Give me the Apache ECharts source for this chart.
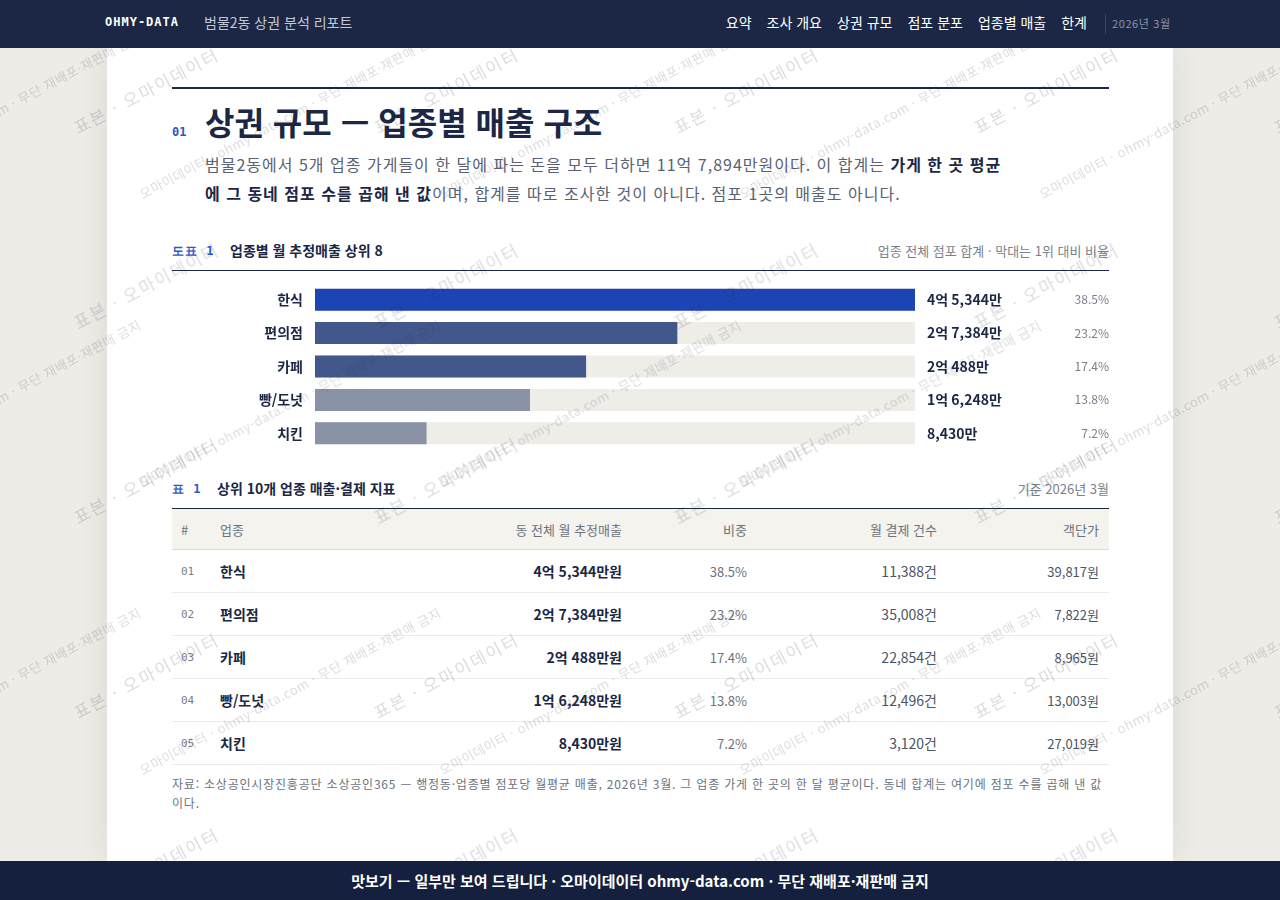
<!DOCTYPE html>
<html lang="ko">
<head>
<meta charset="utf-8">
<title>범물2동 상권 분석 리포트</title>
<script src="https://cdn.jsdelivr.net/npm/echarts@6/dist/echarts.min.js"></script>
<style>
  html, body { margin: 0; padding: 0; }
  body {
    width: 1280px; height: 900px; overflow: hidden; position: relative;
    background: #edece7;
    font-family: "Noto Sans CJK KR", "Noto Sans", sans-serif;
    color: #1b2744;
  }
  .top {
    position: absolute; left: 0; top: 0; width: 1280px; height: 48px;
    background: #1b2744; z-index: 5;
  }
  .top .brand { position: absolute; left: 105px; top: 15px; font: 700 12px "DejaVu Sans Mono", monospace; color: #fff; letter-spacing: 1px; }
  .top .sub { position: absolute; left: 204px; top: 12px; font-size: 14px; color: #c3c9d6; }
  .top .nav { position: absolute; right: 193px; top: 12px; font-size: 14px; color: #fff; }
  .top .nav span { margin-left: 15px; }
  .top .sep { position: absolute; left: 1105px; top: 14px; width: 1px; height: 20px; background: #3a4663; }
  .top .date { position: absolute; left: 1112px; top: 15px; font-size: 11px; color: #8c95aa; letter-spacing: 0.6px; }
  .paper {
    position: absolute; left: 107px; top: 48px; width: 1066px; height: 813px;
    background: #fff; box-shadow: 0 0 28px rgba(60,50,30,0.10);
  }
  .col { position: absolute; left: 65px; width: 937px; }
  .rule-top { top: 39px; height: 2px; background: #1b2744; }
  .num { font: 700 12px "DejaVu Sans Mono", monospace; color: #2f55c8; }
  .title-row { top: 56px; height: 40px; }
  .title-row .num { position: absolute; left: 0; top: 21px; }
  .title-row h1 { position: absolute; left: 33px; top: -6px; margin: 0; font-size: 32px; font-weight: 700; color: #1b2744; white-space: nowrap; }
  .lead { top: 102px; left: 98px; width: 800px; margin: 0; font-size: 16px; line-height: 29px; color: #5a6172; letter-spacing: 1px; }
  .lead b { color: #1b2744; }
  .cap { height: 31px; border-bottom: 1px solid #1b2744; }
  .cap .num { position: absolute; left: 0; top: 4px; letter-spacing: 1px; }
  .cap .t { position: absolute; top: 1px; font-size: 14px; font-weight: 700; color: #1b2744; }
  .cap .r { position: absolute; right: 0; top: 2px; font-size: 13px; color: #7a7f8c; }
  #chart { position: absolute; left: 65px; top: 235px; width: 937px; height: 167px; }
  table { border-collapse: collapse; width: 937px; table-layout: fixed; font-size: 13px; }
  th { height: 40px; background: #f4f3ee; font-weight: 400; font-size: 13px; color: #6b7280; border-bottom: 1px solid #dcdad3; padding: 0 10px 0 9px; }
  td { height: 42px; border-bottom: 1px solid #ecebe6; padding: 0 10px 0 9px; color: #4b5563; }
  th.l, td.l { text-align: left; }
  th.r, td.r { text-align: right; }
  td.idx { font: 11px "DejaVu Sans Mono", monospace; color: #7a7f8c; }
  td.nm, td.sl { font-weight: 700; font-size: 14px; color: #1b2744; }
  td.sh { color: #6b7280; }
  td.py { font-size: 14px; }
  .note { top: 726px; margin: 0; font-size: 12px; line-height: 19px; color: #6b7280; letter-spacing: 0.8px; }
  .wm { position: absolute; left: 0; top: 0; width: 1280px; height: 900px; overflow: hidden; pointer-events: none; z-index: 3; }
  .wm span { position: absolute; white-space: nowrap; transform: translate(-50%, -50%) rotate(-28deg); color: rgba(40,40,55,0.16); }
  .foot {
    position: absolute; left: 0; top: 861px; width: 1280px; height: 39px;
    background: #14203d; color: #fff; font-size: 15px; font-weight: 700;
    text-align: center; line-height: 39px; z-index: 5;
  }
</style>
</head>
<body>
<div class="top">
  <div class="brand">OHMY-DATA</div>
  <div class="sub">범물2동 상권 분석 리포트</div>
  <div class="nav" id="nav"></div>
  <div class="sep"></div>
  <div class="date">2026년 3월</div>
</div>

<div class="paper">
  <div class="col rule-top"></div>
  <div class="col title-row">
    <span class="num">01</span>
    <h1>상권 규모 — 업종별 매출 구조</h1>
  </div>
  <p class="col lead" id="lead"></p>

  <div class="col cap" style="top:191px">
    <span class="num">도표 1</span>
    <span class="t" style="left:58px">업종별 월 추정매출 상위 8</span>
    <span class="r">업종 전체 점포 합계 · 막대는 1위 대비 비율</span>
  </div>
  <div id="chart"></div>

  <div class="col cap" style="top:429px">
    <span class="num">표 1</span>
    <span class="t" style="left:45px">상위 10개 업종 매출·결제 지표</span>
    <span class="r">기준 2026년 3월</span>
  </div>
  <div class="col" style="top:461px">
    <table>
      <colgroup>
        <col style="width:39px"><col style="width:209px"><col style="width:212px">
        <col style="width:125px"><col style="width:190px"><col style="width:162px">
      </colgroup>
      <thead>
        <tr>
          <th class="l">#</th>
          <th class="l">업종</th>
          <th class="r">동 전체 월 추정매출</th>
          <th class="r">비중</th>
          <th class="r">월 결제 건수</th>
          <th class="r">객단가</th>
        </tr>
      </thead>
      <tbody id="rows"></tbody>
    </table>
  </div>
  <p class="col note">자료: 소상공인시장진흥공단 소상공인365 — 행정동·업종별 점포당 월평균 매출, 2026년 3월. 그 업종 가게 한 곳의 한 달 평균이다. 동네 합계는 여기에 점포 수를 곱해 낸 값이다.</p>
</div>

<div class="wm" id="wm"></div>
<div class="foot">맛보기 — 일부만 보여 드립니다 · 오마이데이터 ohmy-data.com · 무단 재배포·재판매 금지</div>

<script>
// 업종별 동 전체 월 추정매출 (단위: 만원)
const categories = ['한식', '편의점', '카페', '빵/도넛', '치킨'];
const salesMan = [45344, 27384, 20488, 16248, 8430];
const sharePct = [38.5, 23.2, 17.4, 13.8, 7.2];
const payments = [11388, 35008, 22854, 12496, 3120];
const avgTicket = [39817, 7822, 8965, 13003, 27019];
const navItems = ['요약', '조사 개요', '상권 규모', '점포 분포', '업종별 매출', '한계'];

const FONT = '"Noto Sans CJK KR", "Noto Sans", sans-serif';

function fmtMan(v) {
  const eok = Math.floor(v / 10000);
  const man = v % 10000;
  if (eok > 0) return eok + '억 ' + man.toLocaleString('en-US') + '만';
  return man.toLocaleString('en-US') + '만';
}

document.getElementById('nav').innerHTML = navItems.map(n => '<span>' + n + '</span>').join('');

const total = salesMan.reduce((a, b) => a + b, 0);
document.getElementById('lead').innerHTML =
  '범물2동에서 ' + categories.length + '개 업종 가게들이 한 달에 파는 돈을 모두 더하면 ' + fmtMan(total) + '원이다. ' +
  '이 합계는 <b>가게 한 곳 평균에 그 동네 점포 수를 곱해 낸 값</b>이며, 합계를 따로 조사한 것이 아니다. 점포 1곳의 매출도 아니다.';

document.getElementById('rows').innerHTML = categories.map((c, i) =>
  '<tr>' +
  '<td class="l idx">' + String(i + 1).padStart(2, '0') + '</td>' +
  '<td class="l nm">' + c + '</td>' +
  '<td class="r sl">' + fmtMan(salesMan[i]) + '원</td>' +
  '<td class="r sh">' + sharePct[i].toFixed(1) + '%</td>' +
  '<td class="r py">' + payments[i].toLocaleString('en-US') + '건</td>' +
  '<td class="r">' + avgTicket[i].toLocaleString('en-US') + '원</td>' +
  '</tr>').join('');

// watermark: two tiled layers of rotated text
(function () {
  const wm = document.getElementById('wm');
  let html = '';
  for (let gx = -1; gx < 5; gx++) {
    for (let gy = 0; gy < 5; gy++) {
      const cx = 146 + gx * 300, cy = 90 + gy * 195;
      html += '<span style="left:' + cx + 'px;top:' + cy + 'px;font-size:17px;letter-spacing:2px">표본 · 오마이데이터</span>';
    }
    for (let gy = 0; gy < 4; gy++) {
      const cx = 290 + gx * 300, cy = 115 + gy * 288;
      html += '<span style="left:' + cx + 'px;top:' + cy + 'px;font-size:13px;letter-spacing:0.5px">오마이데이터 · ohmy-data.com · 무단 재배포·재판매 금지</span>';
    }
  }
  wm.innerHTML = html;
})();

const chart = echarts.init(document.getElementById('chart'));
const maxSales = Math.max.apply(null, salesMan);
const barColors = ['#1c44b5', '#42578c', '#42578c', '#8a92a6', '#8a92a6'];

chart.setOption({
  animation: false,
  grid: { left: 143, right: 194, top: 0, bottom: 0, outerBoundsMode: 'none' },
  xAxis: { type: 'value', min: 0, max: maxSales, show: false },
  yAxis: [
    {
      type: 'category', data: categories, inverse: true,
      axisLine: { show: false }, axisTick: { show: false },
      axisLabel: { color: '#1b2744', fontWeight: 700, fontSize: 14, margin: 12, fontFamily: FONT }
    },
    {
      type: 'category', data: sharePct.map(v => v.toFixed(1) + '%'), inverse: true, position: 'right',
      axisLine: { show: false }, axisTick: { show: false },
      axisLabel: { color: '#7a7f8c', fontSize: 12, align: 'right', margin: 194, fontFamily: FONT }
    }
  ],
  series: [
    {
      type: 'bar', silent: true, barWidth: 22, barGap: '-100%', z: 1,
      data: salesMan.map(() => maxSales),
      itemStyle: { color: '#eeede8' },
      label: {
        show: true, position: 'right', distance: 12,
        formatter: p => fmtMan(salesMan[p.dataIndex]),
        color: '#1b2744', fontWeight: 700, fontSize: 14, fontFamily: FONT
      }
    },
    {
      type: 'bar', barWidth: 22, barGap: '-100%', z: 2,
      data: salesMan.map((v, i) => ({ value: v, itemStyle: { color: barColors[i] } }))
    }
  ]
});
</script>
</body>
</html>
